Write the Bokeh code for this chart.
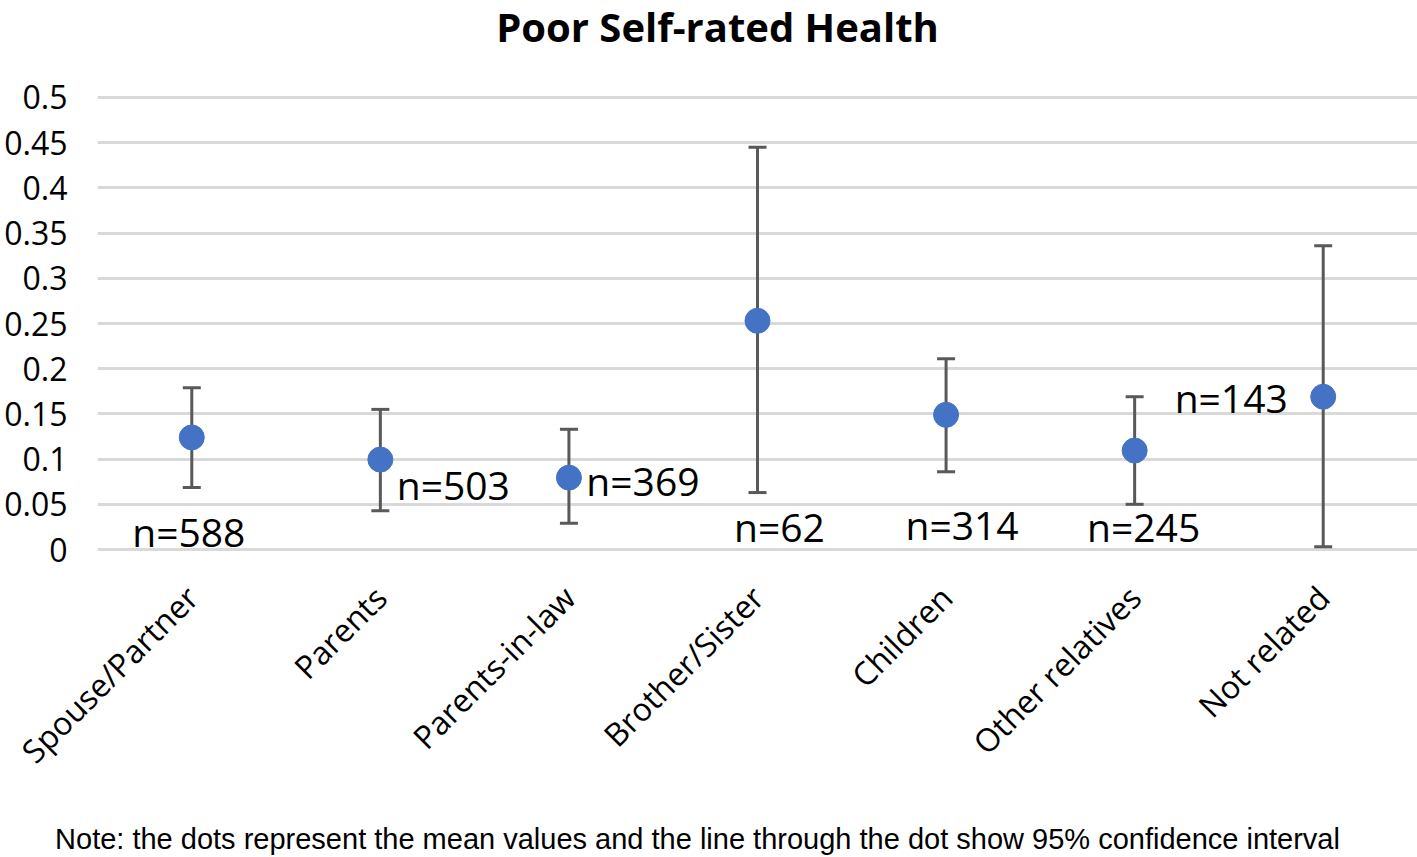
from bokeh.plotting import figure
from bokeh.layouts import column
from bokeh.models import (FactorRange, Range1d, ColumnDataSource, Whisker, TeeHead,
                          FixedTicker, CustomJSTickFormatter)
from bokeh.core.properties import value
from bokeh.embed import file_html
from bokeh.resources import INLINE
import math

categories = ["Spouse/Partner", "Parents", "Parents-in-law", "Brother/Sister",
              "Children", "Other relatives", "Not related"]
means = [0.124, 0.0995, 0.0795, 0.253, 0.149, 0.1095, 0.169]
ci_low = [0.0686, 0.043, 0.029, 0.063, 0.086, 0.050, 0.003]
ci_high = [0.179, 0.155, 0.133, 0.445, 0.211, 0.169, 0.336]
n_labels = ["n=588", "n=503", "n=369", "n=62", "n=314", "n=245", "n=143"]
y_ticks = [0, 0.05, 0.1, 0.15, 0.2, 0.25, 0.3, 0.35, 0.4, 0.45, 0.5]
title_text = "Poor Self-rated Health"
note_text = "Note: the dots represent the mean values and the line through the dot show 95% confidence interval"

# label placement (data y, pixel x offset)
label_y = [0.020, 0.072, 0.076, 0.025, 0.028, 0.025, 0.168]
label_dx = [-3, 73, 74, 22, 16, 9, -92]

W = 1417


def strip(h):
    f = figure(width=W, height=h, x_range=Range1d(0, W), y_range=Range1d(0, h),
               output_backend="svg", toolbar_location=None, title=None,
               x_axis_location=None, y_axis_location=None, min_border=0)
    f.outline_line_color = None
    f.grid.visible = False
    f.frame_align = False
    return f


# --- title strip ---
tf = strip(60)
tf.text(x=[717], y=[34], text=[title_text], text_font=value("Open Sans"),
        text_font_style="bold", text_font_size="40px", text_color="black",
        text_line_height=1.0, text_align="center", text_baseline="middle")

# --- main chart ---
p = figure(x_range=FactorRange(*categories, range_padding=0),
           y_range=Range1d(-0.0044, 0.5044),
           frame_width=1320, frame_height=460, output_backend="svg",
           toolbar_location=None, title=None,
           min_border_left=97, min_border_right=0, min_border_top=33, min_border_bottom=250)
p.outline_line_color = None
p.background_fill_color = "white"
p.frame_align = False

p.xgrid.grid_line_color = None
p.ygrid.grid_line_color = "#d9d9d9"
p.ygrid.grid_line_width = 3
p.ygrid.ticker = FixedTicker(ticks=y_ticks)

p.yaxis.ticker = FixedTicker(ticks=y_ticks)
p.yaxis.formatter = CustomJSTickFormatter(code="return String(Math.round(tick*100)/100);")
p.yaxis.axis_line_color = None
p.yaxis.major_tick_line_color = None
p.yaxis.minor_tick_line_color = None
p.yaxis.major_label_text_font = "Open Sans"
p.yaxis.major_label_text_font_size = "32px"
p.yaxis.major_label_text_color = "black"
p.yaxis.major_label_standoff = 24

p.xaxis.axis_line_color = None
p.xaxis.major_tick_line_color = None
p.xaxis.minor_tick_line_color = None
p.xaxis.major_label_orientation = math.pi / 4
p.xaxis.major_label_text_font = "Open Sans"
p.xaxis.major_label_text_font_size = "32px"
p.xaxis.major_label_text_color = "black"
p.xaxis.major_label_standoff = 32

src = ColumnDataSource(dict(cat=categories, mean=means, lo=ci_low, hi=ci_high,
                            lab=n_labels, ly=label_y, dx=label_dx))

w = Whisker(source=src, base="cat", lower="lo", upper="hi",
            line_color="#595959", line_width=3,
            lower_head=TeeHead(size=18, line_color="#595959", line_width=3),
            upper_head=TeeHead(size=18, line_color="#595959", line_width=3))
p.add_layout(w)

p.scatter(x="cat", y="mean", source=src, size=25, fill_color="#4472C4",
          line_color="#4472C4")

p.text(x="cat", y="ly", text="lab", x_offset="dx", source=src,
       text_font=value("Open Sans"), text_font_size="39px", text_color="black",
       text_align="center", text_baseline="middle")

# --- note strip ---
nf = strip(54)
nf.text(x=[697], y=[19], text=[note_text], text_font=value("Liberation Sans"),
        text_font_size="29px", text_color="black",
        text_align="center", text_baseline="middle")

layout = column(tf, p, nf, spacing=0)
open("out.html", "w").write(file_html(layout, INLINE))
